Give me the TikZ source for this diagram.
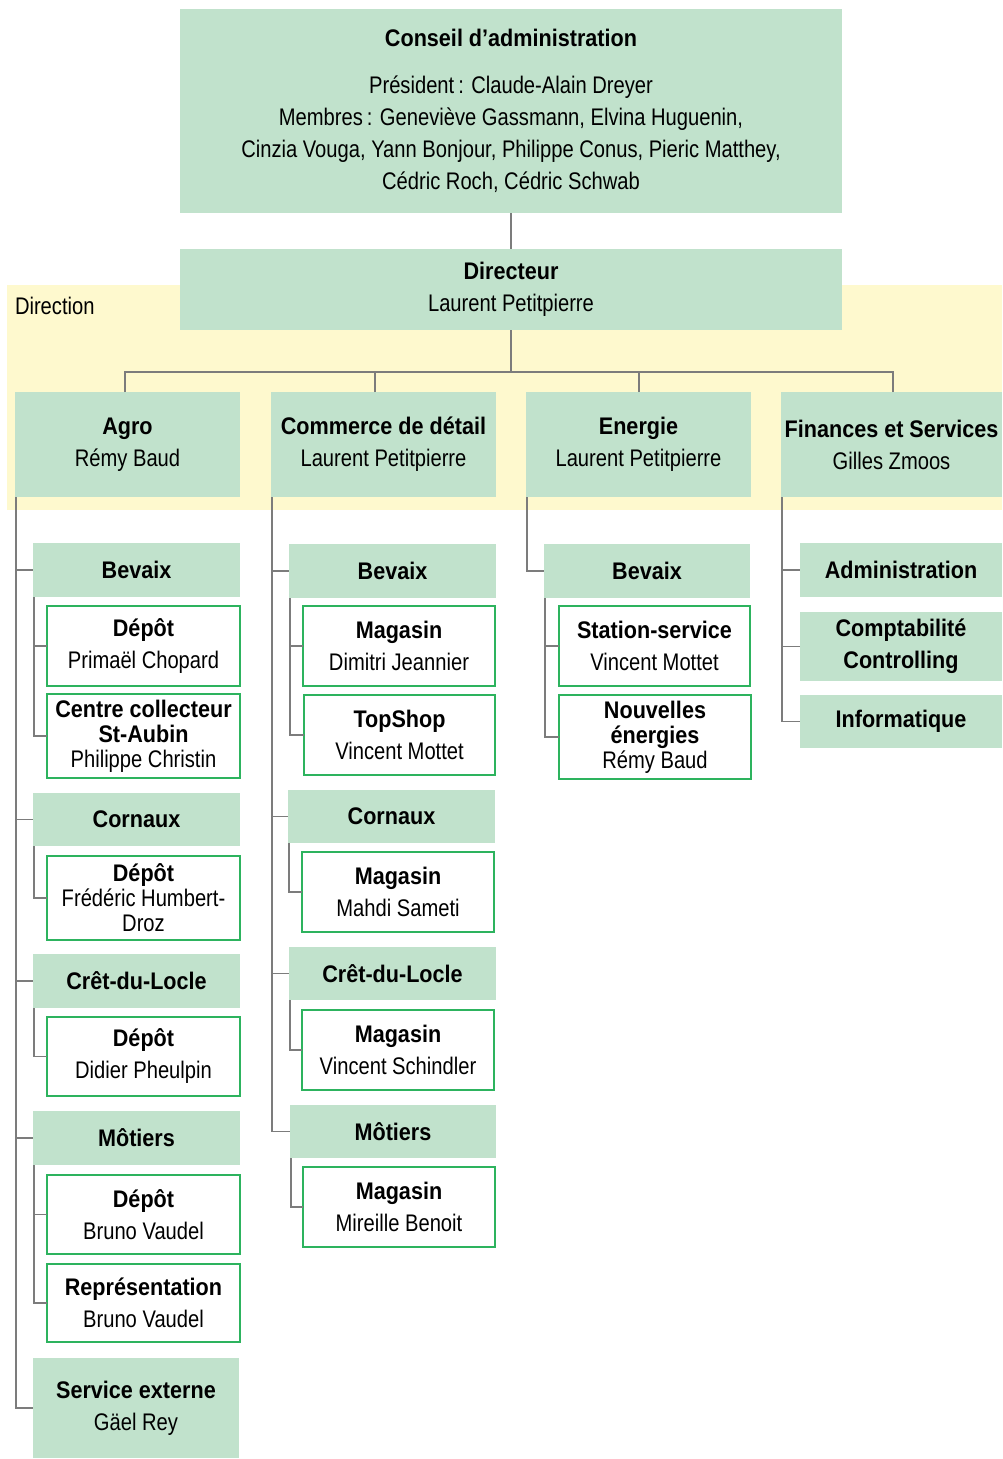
\documentclass[tikz,border=0pt]{standalone}
\usepackage{fontspec}
\setmainfont[FakeStretch=0.84,BoldFeatures={FakeStretch=0.9}]{Liberation Sans}
\definecolor{boxgreen}{HTML}{C1E2CC}
\definecolor{bordergreen}{HTML}{2DB35E}
\definecolor{bandyellow}{HTML}{FEF9CE}
\definecolor{linegray}{HTML}{7C7C7C}
\newcommand\bx[7]{\node[#2,minimum width={(#5-#3)*1pt},minimum height={(#6-#4)*1pt}] (#1) at ({(#3+#5)/2},{(#4+#6)/2}) {#7};}
\newcommand\tn[2]{\textbf{#1}\\#2}
\tikzset{
  base/.style={inner sep=0pt,outer sep=0pt,align=center,text=black,font=\fontsize{24}{32}\selectfont},
  gbox/.style={base,fill=boxgreen},
  wbox/.style={base,fill=white,draw=bordergreen,line width=1.5pt},
  tight/.style={font=\fontsize{24}{25}\selectfont},
  conn/.style={draw=linegray,line width=1.5pt},
}
\begin{document}
\begin{tikzpicture}[x=1pt,y=-1pt]
\useasboundingbox (0,0) rectangle (1002,1459);
\fill[bandyellow] (7,285) rectangle (1002,510);
\node[base,anchor=base west] (dirlabel) at (15,314) {Direction};

\bx{top}{gbox}{180}{9}{842}{213}{\textbf{Conseil d’administration}\\[15pt]Président\,: Claude-Alain Dreyer\\Membres\,: Geneviève Gassmann, Elvina Huguenin,\\Cinzia Vouga, Yann Bonjour, Philippe Conus, Pieric Matthey,\\Cédric Roch, Cédric Schwab}
\bx{dir}{gbox}{180}{249}{842}{330}{\tn{Directeur}{Laurent Petitpierre}}

\bx{agro}{gbox}{15}{392}{240}{497}{\tn{Agro}{Rémy Baud}}
\bx{com}{gbox}{271}{392}{496}{497}{\tn{Commerce de détail}{Laurent Petitpierre}}
\bx{ene}{gbox}{526}{392}{751}{497}{\tn{Energie}{Laurent Petitpierre}}
\bx{fin}{gbox}{781}{392}{1002}{497}{\tn{Finances et Services}{Gilles Zmoos}}

% Agro
\bx{aBev}{gbox}{33}{543}{240}{597}{\textbf{Bevaix}}
\bx{aBevD}{wbox}{47}{606}{240}{686}{\tn{Dépôt}{Primaël Chopard}}
\bx{aBevC}{wbox,tight}{47}{694}{240}{778}{\textbf{Centre collecteur}\\\textbf{St-Aubin}\\Philippe Christin}
\bx{aCor}{gbox}{33}{793}{240}{846}{\textbf{Cornaux}}
\bx{aCorD}{wbox,tight}{47}{856}{240}{940}{\textbf{Dépôt}\\Frédéric Humbert-\\Droz}
\bx{aCre}{gbox}{33}{954}{240}{1008}{\textbf{Crêt-du-Locle}}
\bx{aCreD}{wbox}{47}{1017}{240}{1096}{\tn{Dépôt}{Didier Pheulpin}}
\bx{aMot}{gbox}{33}{1111}{240}{1165}{\textbf{Môtiers}}
\bx{aMotD}{wbox}{47}{1175}{240}{1254}{\tn{Dépôt}{Bruno Vaudel}}
\bx{aMotR}{wbox}{47}{1264}{240}{1342}{\tn{Représentation}{Bruno Vaudel}}
\bx{aSer}{gbox}{33}{1358}{239}{1458}{\tn{Service externe}{Gäel Rey}}

% Commerce
\bx{cBev}{gbox}{289}{544}{496}{598}{\textbf{Bevaix}}
\bx{cBevM}{wbox}{303}{606}{495}{686}{\tn{Magasin}{Dimitri Jeannier}}
\bx{cBevT}{wbox}{304}{695}{495}{775}{\tn{TopShop}{Vincent Mottet}}
\bx{cCor}{gbox}{288}{790}{495}{843}{\textbf{Cornaux}}
\bx{cCorM}{wbox}{302}{852}{494}{932}{\tn{Magasin}{Mahdi Sameti}}
\bx{cCre}{gbox}{289}{947}{496}{1000}{\textbf{Crêt-du-Locle}}
\bx{cCreM}{wbox}{302}{1010}{494}{1090}{\tn{Magasin}{Vincent Schindler}}
\bx{cMot}{gbox}{290}{1105}{496}{1158}{\textbf{Môtiers}}
\bx{cMotM}{wbox}{303}{1167}{495}{1247}{\tn{Magasin}{Mireille Benoit}}

% Energie
\bx{eBev}{gbox}{544}{544}{750}{598}{\textbf{Bevaix}}
\bx{eSta}{wbox}{559}{606}{750}{686}{\tn{Station-service}{Vincent Mottet}}
\bx{eNou}{wbox,tight}{559}{695}{751}{779}{\textbf{Nouvelles}\\\textbf{énergies}\\Rémy Baud}

% Finances
\bx{fAdm}{gbox}{800}{543}{1002}{597}{\textbf{Administration}}
\bx{fCom}{gbox}{800}{612}{1002}{681}{\textbf{Comptabilité}\\\textbf{Controlling}}
\bx{fInf}{gbox}{800}{695}{1002}{748}{\textbf{Informatique}}

% connectors top
\coordinate (bus) at (511,372);
\draw[conn] (top.south) -- (dir.north);
\draw[conn] (dir.south) -- (bus);
\draw[conn] ([xshift=-2.5pt]agro.north) |- (bus);
\draw[conn] ([xshift=-8.5pt]com.north) |- (bus);
\draw[conn] ([xshift=0.5pt]ene.north) |- (bus);
\draw[conn] ([xshift=1.5pt]fin.north) |- (bus);

% Agro trunk
\foreach \c in {aBev,aCor,aCre,aMot,aSer}
  \draw[conn] ([xshift=1pt]agro.south west) |- (\c.west);
\foreach \p/\c in {aBev/aBevD,aBev/aBevC,aCor/aCorD,aCre/aCreD,aMot/aMotD,aMot/aMotR}
  \draw[conn] ([xshift=1pt]\p.south west) |- (\c.west);

% Commerce trunk
\foreach \c in {cBev,cCor,cCre,cMot}
  \draw[conn] ([xshift=1pt]com.south west) |- (\c.west);
\foreach \p/\c in {cBev/cBevM,cBev/cBevT,cCor/cCorM,cCre/cCreM,cMot/cMotM}
  \draw[conn] ([xshift=1pt]\p.south west) |- (\c.west);

% Energie trunk
\draw[conn] ([xshift=1pt]ene.south west) |- (eBev.west);
\foreach \c in {eSta,eNou}
  \draw[conn] ([xshift=1pt]eBev.south west) |- (\c.west);

% Finances trunk
\foreach \c in {fAdm,fCom,fInf}
  \draw[conn] ([xshift=1pt]fin.south west) |- (\c.west);
\end{tikzpicture}
\end{document}
